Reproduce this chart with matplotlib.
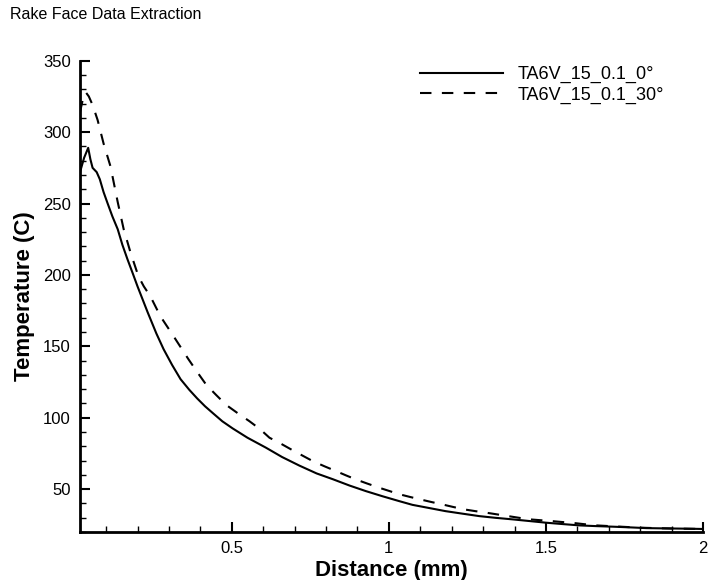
import matplotlib
matplotlib.use("Agg")
import matplotlib.pyplot as plt
from matplotlib.ticker import MultipleLocator, FormatStrFormatter, FuncFormatter

plt.rcParams['font.family'] = ['Liberation Sans', 'DejaVu Sans']

# distancia (mm) e temperatura (C)
dist_0 = [0.017, 0.03, 0.043, 0.05, 0.057, 0.07, 0.08, 0.092, 0.105, 0.12, 0.137, 0.152, 0.168,
          0.185, 0.2, 0.232, 0.26, 0.283, 0.31, 0.337, 0.365, 0.39, 0.415, 0.441, 0.47, 0.503,
          0.55, 0.609, 0.66, 0.715, 0.77, 0.821, 0.875, 0.927, 0.98, 1.033, 1.075, 1.13, 1.18,
          1.235, 1.288, 1.34, 1.395, 1.45, 1.5, 1.555, 1.607, 1.66, 1.714, 1.77, 1.82, 1.88,
          1.95, 2.0]
temp_0 = [272, 282, 289, 281, 275, 272, 267, 258, 250, 241, 232, 221, 211,
          201, 192, 174, 159, 148, 137, 127, 119.5, 113.5, 108, 103, 97.5, 92.5,
          86, 79, 72.5, 66.5, 61, 57, 52.5, 48.6, 45, 41.6, 39, 36.7, 34.6,
          32.8, 31.1, 29.9, 28.8, 27.6, 26.5, 25.5, 24.6, 24.1, 23.7, 23.2, 22.7, 22.5,
          22.3, 22.1]

dist_30 = [0.017, 0.026, 0.035, 0.045, 0.057, 0.073, 0.092, 0.114, 0.125, 0.137, 0.156, 0.178,
           0.203, 0.22, 0.241, 0.273, 0.315, 0.362, 0.39, 0.419, 0.45, 0.482, 0.52, 0.556,
           0.59, 0.62, 0.655, 0.689, 0.725, 0.758, 0.795, 0.832, 0.865, 0.895, 0.93, 0.969,
           1.0, 1.032, 1.066, 1.1, 1.135, 1.17, 1.205, 1.24, 1.275, 1.31, 1.345, 1.38, 1.415,
           1.45, 1.485, 1.52, 1.55, 1.58, 1.62, 1.66, 1.73, 1.8, 1.865, 1.93, 2.0]
temp_30 = [314, 323, 328, 325, 319, 308.5, 292, 276, 264, 251, 232, 215.5,
           199, 192, 185, 171, 157, 141, 132, 123, 116, 109, 103, 97.6,
           92, 86, 82, 77.8, 73.5, 69.6, 66, 62.6, 59.5, 56.8, 54, 51,
           48.8, 46.5, 44.6, 42.8, 41, 39.3, 37.5, 35.8, 34.6, 33.5, 32.3, 31.1, 29.9,
           28.8, 28.2, 27.6, 27, 26.5, 25.5, 24.6, 23.8, 23.0, 22.6, 22.3, 22.1]

nomes = ['TA6V_15_0.1_0°', 'TA6V_15_0.1_30°']

fig = plt.figure(figsize=(7.1, 5.8), dpi=100)
ax = fig.add_axes([0.1127, 0.0828, 0.8775, 0.8125])

ax.plot(dist_0, temp_0, color='black', linewidth=1.5, linestyle='-', label=nomes[0])
ax.plot(dist_30, temp_30, color='black', linewidth=1.5, linestyle=(0, (5.5, 5)), label=nomes[1])

ax.set_xlim(0.017, 2.0)
ax.set_ylim(20, 350)

ax.spines['top'].set_visible(False)
ax.spines['right'].set_visible(False)
ax.spines['left'].set_linewidth(2.0)
ax.spines['bottom'].set_linewidth(2.0)

ax.xaxis.set_major_locator(MultipleLocator(0.5))
ax.xaxis.set_minor_locator(MultipleLocator(0.1))
ax.yaxis.set_major_locator(MultipleLocator(50))
ax.yaxis.set_minor_locator(MultipleLocator(10))
ax.xaxis.set_major_formatter(FuncFormatter(lambda v, p: '%g' % v))
ax.yaxis.set_major_formatter(FormatStrFormatter('%d'))

ax.tick_params(which='major', direction='in', length=7.5, width=1.5, labelsize=12, pad=6.5)
ax.tick_params(which='minor', direction='in', length=4, width=1.0)

ax.set_xlabel('Distance (mm)', fontsize=16, fontweight='bold', labelpad=3)
ax.set_ylabel('Temperature (C)', fontsize=16, fontweight='bold', labelpad=6)

fig.text(0.014, 0.967, 'Rake Face Data Extraction', fontsize=11.5, ha='left', va='baseline')

ax.legend(loc='upper left', bbox_to_anchor=(0.546, 0.989), frameon=False, fontsize=13,
          handlelength=4.6, handletextpad=0.8, labelspacing=0.18, borderpad=0, borderaxespad=0)

fig.savefig('out.png', dpi=100)
